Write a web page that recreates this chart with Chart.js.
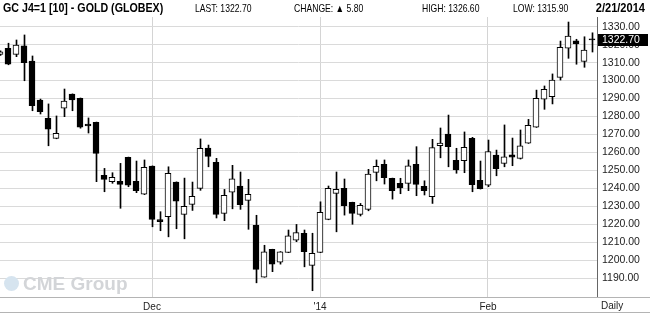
<!DOCTYPE html>
<html lang="en">
<head>
<meta charset="UTF-8">
<title>GC J4=1 - Gold (Globex) - Daily</title>
<script src="https://cdn.jsdelivr.net/npm/chart.js"></script>
<style>
  html, body { margin: 0; padding: 0; background: #fff; }
  #wrap { width: 650px; height: 314px; }
</style>
</head>
<body>
<div id="wrap"><canvas id="goldChart" width="650" height="314"></canvas></div>
<script>
// trading days on the chart, Nov 4 2013 .. Feb 21 2014
const dates = [
  '11/04','11/05','11/06','11/07','11/08','11/11','11/12','11/13','11/14','11/15',
  '11/18','11/19','11/20','11/21','11/22','11/25','11/26','11/27','11/29',
  '12/02','12/03','12/04','12/05','12/06','12/09','12/10','12/11','12/12','12/13',
  '12/16','12/17','12/18','12/19','12/20','12/23','12/24','12/26','12/27','12/30','12/31',
  '01/02','01/03','01/06','01/07','01/08','01/09','01/10','01/13','01/14','01/15',
  '01/16','01/17','01/21','01/22','01/23','01/24','01/27','01/28','01/29','01/30','01/31',
  '02/03','02/04','02/05','02/06','02/07','02/10','02/11','02/12','02/13','02/14',
  '02/18','02/19','02/20','02/21'
];

// OHLC
const opens = [
  1314.5, 1318.0, 1314.6, 1319.3, 1310.9, 1289.2, 1279.0, 1267.8, 1284.6, 1292.5,
  1290.1, 1275.8, 1276.8, 1247.2, 1243.7, 1243.9, 1257.3, 1243.9, 1236.7,
  1252.4, 1222.6, 1224.2, 1243.5, 1225.5, 1231.1, 1240.0, 1262.4, 1254.5, 1226.1,
  1237.9, 1241.3, 1233.3, 1219.4, 1190.6, 1206.0, 1198.9, 1204.3, 1211.2, 1215.0, 1197.1,
  1204.3, 1222.7, 1237.2, 1240.0, 1232.2, 1225.5, 1228.3, 1248.9, 1253.4, 1245.6,
  1242.8, 1242.8, 1253.4, 1241.1, 1235.3, 1263.7, 1270.2, 1255.6, 1255.4, 1267.8, 1244.5,
  1241.8, 1258.5, 1253.9, 1258.6, 1256.7, 1265.1, 1274.0, 1289.6, 1291.0, 1301.8,
  1318.0, 1322.2, 1310.7, 1323.3
];
const highs = [
  1316.5, 1320.8, 1322.6, 1325.4, 1313.7, 1289.7, 1287.0, 1280.3, 1295.3, 1292.6,
  1290.3, 1279.2, 1276.9, 1251.1, 1248.7, 1253.9, 1257.4, 1255.2, 1255.8,
  1252.5, 1227.0, 1252.0, 1243.6, 1245.7, 1243.5, 1267.5, 1264.1, 1256.7, 1239.4,
  1252.8, 1249.1, 1245.0, 1225.0, 1208.3, 1206.1, 1204.8, 1216.8, 1219.9, 1216.8, 1215.0,
  1232.5, 1241.3, 1249.1, 1245.2, 1232.3, 1231.6, 1250.6, 1255.8, 1255.8, 1245.7,
  1245.6, 1255.8, 1263.2, 1244.2, 1267.3, 1273.6, 1280.8, 1262.3, 1271.4, 1268.4, 1255.2,
  1266.9, 1261.3, 1275.3, 1268.0, 1272.5, 1278.4, 1294.7, 1297.0, 1303.7, 1322.0,
  1332.6, 1323.0, 1324.4, 1326.6
];
const lows = [
  1314.0, 1308.8, 1313.3, 1299.9, 1283.2, 1281.4, 1263.7, 1267.6, 1279.9, 1283.2,
  1273.5, 1270.8, 1243.7, 1238.1, 1242.8, 1228.9, 1240.9, 1237.6, 1236.5,
  1218.6, 1216.4, 1213.0, 1217.5, 1211.9, 1227.7, 1238.9, 1252.0, 1223.5, 1222.0,
  1228.6, 1228.3, 1217.2, 1187.4, 1190.5, 1193.6, 1197.8, 1204.2, 1210.3, 1196.3, 1183.0,
  1204.2, 1222.5, 1215.8, 1225.1, 1220.0, 1224.6, 1227.5, 1244.2, 1242.4, 1234.0,
  1237.0, 1238.7, 1235.9, 1236.3, 1231.6, 1257.0, 1252.0, 1248.4, 1248.7, 1238.1, 1239.6,
  1240.9, 1247.0, 1252.0, 1252.6, 1256.3, 1265.0, 1273.9, 1284.0, 1287.0, 1300.3,
  1312.4, 1309.1, 1307.4, 1315.9
];
const closes = [
  1316.0, 1309.1, 1319.8, 1310.0, 1286.0, 1282.7, 1272.9, 1270.6, 1288.6, 1289.2,
  1274.0, 1274.7, 1259.5, 1245.0, 1246.1, 1242.2, 1241.8, 1238.7, 1251.7,
  1222.7, 1221.5, 1248.4, 1232.8, 1230.0, 1235.5, 1262.3, 1257.8, 1225.5, 1236.1,
  1245.3, 1230.9, 1236.7, 1194.9, 1204.7, 1197.8, 1204.7, 1213.6, 1215.3, 1204.7, 1203.8,
  1226.6, 1240.0, 1239.4, 1230.3, 1226.1, 1230.5, 1248.0, 1252.3, 1245.9, 1238.7,
  1240.3, 1252.6, 1242.2, 1238.7, 1262.7, 1265.2, 1263.2, 1250.2, 1262.8, 1242.0, 1239.8,
  1260.4, 1251.0, 1257.6, 1257.3, 1263.6, 1275.1, 1290.1, 1295.1, 1300.3, 1318.5,
  1324.8, 1320.4, 1317.0, 1322.7
];

const monthStarts = ['12/02', '01/02', '02/03'];
const monthLabels = ['Dec', "'14", 'Feb'];
const yTicks = [1190, 1200, 1210, 1220, 1230, 1240, 1250, 1260, 1270, 1280, 1290, 1300, 1310, 1320, 1330];

const title = 'GC J4=1 [10] - GOLD (GLOBEX)';
const lastText = 'LAST: 1322.70';
const changeText = 'CHANGE: \u25B2 5.80';
const highText = 'HIGH: 1326.60';
const lowText = 'LOW: 1315.90';
const dateText = '2/21/2014';
const lastPrice = 1322.70;

const SANS = '"Liberation Sans", Arial, sans-serif';
const NARROW_X = 0.82; // squeeze Liberation Sans to look like Arial Narrow

function narrowText(ctx, text, x, y, font, align) {
  ctx.save();
  ctx.font = font;
  ctx.textAlign = align || 'left';
  ctx.scale(NARROW_X, 1);
  ctx.fillText(text, x / NARROW_X, y);
  ctx.restore();
}

// header, watermark, price flag and frame lines
const chartExtras = {
  id: 'chartExtras',
  beforeDatasetsDraw(chart) {
    const ctx = chart.ctx;
    ctx.save();
    ctx.fillStyle = '#d6e4ef';
    ctx.beginPath();
    ctx.arc(11.5, 283.5, 7.5, 0, Math.PI * 2);
    ctx.fill();
    ctx.fillStyle = '#d3d5d8';
    ctx.font = 'bold 19px ' + SANS;
    ctx.textBaseline = 'alphabetic';
    ctx.fillText('CME Group', 23, 289.5);
    ctx.restore();
  },
  afterDraw(chart) {
    const ctx = chart.ctx;
    const area = chart.chartArea;
    const yScale = chart.scales.y;
    ctx.save();

    // header
    ctx.fillStyle = '#000';
    ctx.textBaseline = 'alphabetic';
    narrowText(ctx, title, 3, 12, 'bold 13px ' + SANS);
    narrowText(ctx, lastText, 195, 12, '10.5px ' + SANS);
    narrowText(ctx, changeText, 294, 12, '10.5px ' + SANS);
    narrowText(ctx, highText, 422, 12, '10.5px ' + SANS);
    narrowText(ctx, lowText, 513, 12, '10.5px ' + SANS);
    narrowText(ctx, dateText, 645, 12, 'bold 13.5px ' + SANS, 'right');

    // bottom lines
    ctx.strokeStyle = '#b4b4b4';
    ctx.lineWidth = 1;
    ctx.beginPath();
    ctx.moveTo(0, area.bottom + 0.5);
    ctx.lineTo(650, area.bottom + 0.5);
    ctx.moveTo(0, 312.5);
    ctx.lineTo(650, 312.5);
    ctx.stroke();

    // Daily
    ctx.textAlign = 'left';
    ctx.textBaseline = 'middle';
    ctx.fillStyle = '#222';
    ctx.font = '10px ' + SANS;
    ctx.fillText('Daily', 601, 306);

    // last price flag
    const py = Math.round(yScale.getPixelForValue(lastPrice));
    ctx.fillStyle = '#000';
    ctx.fillRect(area.right + 1, py - 6, 50, 12);
    ctx.fillStyle = '#fff';
    ctx.font = '10.5px ' + SANS;
    ctx.fillText(lastPrice.toFixed(2), area.right + 5, py + 0.5);
    ctx.restore();
  }
};

const ctx = document.getElementById('goldChart').getContext('2d');
new Chart(ctx, {
  type: 'bar',
  data: {
    datasets: [
      {
        label: 'Body',
        xAxisID: 'x',
        data: opens.map((o, i) => ({ x: i, y: [o, closes[i]] })),
        backgroundColor: opens.map((o, i) => closes[i] > o ? '#ffffff' : '#000000'),
        borderColor: '#000',
        borderWidth: 1,
        borderSkipped: false,
        barThickness: 6,
        grouped: false,
        order: 0
      },
      {
        label: 'Range',
        xAxisID: 'x2',
        data: lows.map((l, i) => ({ x: i, y: [l, highs[i]] })),
        backgroundColor: '#000',
        borderWidth: 0,
        barThickness: 1,
        grouped: false,
        order: 1
      }
    ]
  },
  options: {
    responsive: false,
    animation: false,
    layout: { padding: { top: 17, left: 0, right: 0, bottom: 0 } },
    plugins: {
      legend: { display: false },
      tooltip: { enabled: false }
    },
    scales: {
      x: {
        type: 'linear',
        offset: false,
        min: 0,
        max: 74.625,
        afterFit(scale) { scale.height = 17; },
        afterBuildTicks(scale) {
          scale.ticks = monthStarts.map(d => ({ value: dates.indexOf(d) }));
        },
        grid: { color: '#d4d4d4', drawTicks: false, offset: false },
        border: { display: false },
        ticks: {
          padding: 4,
          maxRotation: 0,
          autoSkip: false,
          color: '#222',
          font: { family: SANS, size: 10 },
          callback: v => monthLabels[monthStarts.indexOf(dates[v])]
        }
      },
      x2: {
        type: 'linear',
        display: false,
        offset: false,
        grid: { offset: false },
        min: -0.0625,
        max: 74.5625
      },
      y: {
        position: 'right',
        min: 1179.5,
        max: 1335.4,
        afterFit(scale) { scale.width = 53; },
        afterBuildTicks(scale) {
          scale.ticks = yTicks.map(v => ({ value: v }));
        },
        grid: { color: '#dadada', drawTicks: false },
        border: { display: true, color: '#666' },
        ticks: {
          padding: 5,
          color: '#222',
          font: { family: SANS, size: 10.5 },
          callback: v => v.toFixed(2)
        }
      }
    }
  },
  plugins: [chartExtras]
});
</script>
</body>
</html>
